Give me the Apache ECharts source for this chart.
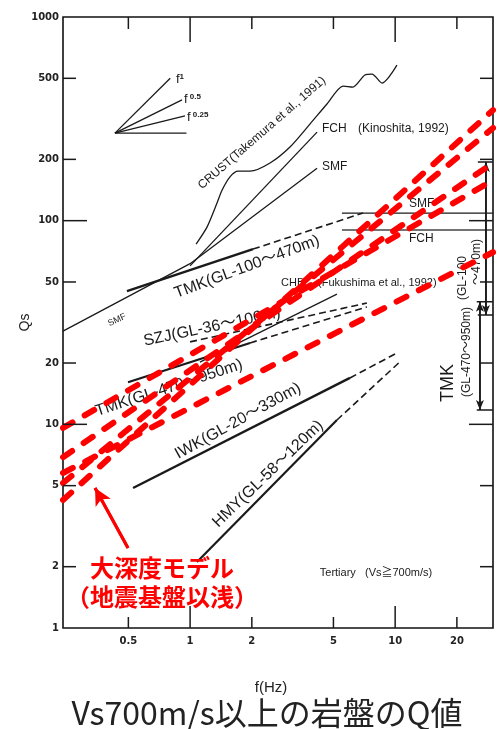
<!DOCTYPE html>
<html><head><meta charset="utf-8">
<script src="https://cdn.jsdelivr.net/npm/echarts@6/dist/echarts.min.js"></script>
<style>html,body{margin:0;padding:0;background:#fff}#c{width:500px;height:729px}</style>
</head><body><div id="c"></div>
<script>
// ---------- axes / ticks ----------
const xTicks = [0.5, 1, 2, 5, 10, 20];
const xTickLabels = ['0.5', '1', '2', '5', '10', '20'];
const yTicks = [1, 2, 5, 10, 20, 50, 100, 200, 500, 1000];
const yTickLabels = ['1', '2', '5', '10', '20', '50', '100', '200', '500', '1000'];
const X_MIN = 0.24, X_MAX = 30, Y_MIN = 1, Y_MAX = 1000;

// ---------- red "大深度モデル" lines [f, Qs] ----------
const modelA = [[0.24, 9.6], [30, 158]];
const modelB = [[0.24, 6.9], [30, 192]];
const modelC = [[0.24, 5.15], [30, 285]];
const modelD = [[0.24, 4.25], [30, 349]];
const modelE = [[0.24, 5.77], [30, 70]];

// ---------- slope reference fan ----------
const fanF1 = [[0.43, 269], [0.80, 500]];
const fanF05 = [[0.43, 269], [0.913, 392]];
const fanF025 = [[0.43, 269], [0.944, 327]];
const fanF0 = [[0.43, 269], [0.96, 269]];

// ---------- literature curves ----------
const crust = [[1.07, 76.8], [1.209, 93], [1.353, 122], [1.431, 141], [1.565, 164], [1.713, 175], [1.96, 175],
  [2.454, 192], [3.07, 230], [3.84, 298], [4.65, 374], [5.57, 458], [6.22, 453], [7.12, 519], [7.71, 524], [8.63, 474], [10.2, 580]];
const fch = [[1.0, 60], [4.16, 272]];
const smf = [[0.24, 28.7], [1.0, 61.5], [4.16, 181]];
const smfFlat = [[5.5, 109], [30, 109]];
const fchFlat = [[5.5, 90], [30, 90]];
const tmk100Solid = [[0.492, 45.1], [2.026, 72.5]];
const tmk100Dash = [[2.026, 72.5], [6.97, 109]];
const tmk470Solid = [[0.498, 16.1], [1.96, 25.1]];
const tmk470Dash = [[1.96, 25.1], [7.28, 37.7]];
const szjDash = [[1.0, 25.4], [7.28, 39.4]];
const chb = [[1.117, 20.2], [5.2, 43.6]];
const iwkSolid = [[0.527, 4.87], [6.02, 16.9]];
const iwkDash = [[6.02, 16.9], [10.2, 22.4]];
const hmySolid = [[1.08, 2.11], [5.2, 10.5]];
const hmyDash = [[5.2, 10.5], [10.4, 20.0]];

// ---------- TMK ranges at right ----------
const tmkUpperBar = [[27.7, 194], [27.7, 34.4]];
const tmkUpperCapTop = [[25.3, 194], [30, 194]];
const tmkUpperCapBot = [[25.3, 34.4], [30, 34.4]];
const tmkLowerBar = [[25.9, 40], [25.9, 11.75]];
const tmkLowerCapTop = [[25.0, 40], [30, 40]];
const tmkLowerCapBot = [[25.0, 11.75], [30, 11.75]];

// ---------- red arrow ----------
const redArrow = [[0.498, 2.47], [0.344, 4.87]];

const BLACK = '#1a1a1a', RED = '#ff0000';
const LAT = '"Liberation Sans", "Noto Sans CJK JP", sans-serif';
const JP = '"Noto Sans CJK JP", sans-serif';

function line(name, data, o) {
  o = o || {};
  const s = {
    name, type: 'line', data, symbol: 'none', silent: true, z: o.z || 3, smooth: o.smooth || false,
    lineStyle: { color: o.color || BLACK, width: o.width || 1.3, type: o.type || 'solid', cap: o.cap || 'butt' }
  };
  if (o.markLine) s.markLine = o.markLine;
  return s;
}
function arrowLine(pts, sym, size, color, width) {
  return {
    silent: true, animation: false, symbol: sym, symbolSize: size,
    label: { show: false }, lineStyle: { color, width, type: 'solid' },
    data: [[{ coord: pts[0] }, { coord: pts[1] }]]
  };
}

const RED_DASH = { color: RED, width: 6, type: [11, 14], cap: 'round', z: 6 };
const BLK_DASH = [7, 4];

const series = [
  line('fanF1', fanF1), line('fanF05', fanF05), line('fanF025', fanF025), line('fanF0', fanF0),
  line('CRUST', crust, { smooth: 0.25 }),
  line('FCH', fch), line('SMF', smf),
  line('SMF flat', smfFlat), line('FCH flat', fchFlat, { color: '#444' }),
  line('TMK100', tmk100Solid, { width: 2.4 }), line('TMK100d', tmk100Dash, { width: 1.6, type: BLK_DASH }),
  line('TMK470', tmk470Solid, { width: 2.2 }), line('TMK470d', tmk470Dash, { width: 1.6, type: BLK_DASH }),
  line('SZJ', szjDash, { width: 1.6, type: BLK_DASH }),
  line('CHB', chb, { width: 1.2 }),
  line('IWK', iwkSolid, { width: 2.4 }), line('IWKd', iwkDash, { width: 1.6, type: BLK_DASH }),
  line('HMY', hmySolid, { width: 2.2 }), line('HMYd', hmyDash, { width: 1.6, type: BLK_DASH }),
  line('tmkUpperBar', tmkUpperBar, { width: 1.6, markLine: arrowLine(tmkUpperBar, ['arrow', 'arrow'], [6, 10], BLACK, 1.6) }),
  line('tmkUpperCapTop', tmkUpperCapTop, { width: 1.6 }), line('tmkUpperCapBot', tmkUpperCapBot, { width: 1.6 }),
  line('tmkLowerBar', tmkLowerBar, { width: 1.6, markLine: arrowLine(tmkLowerBar, ['arrow', 'arrow'], [6, 10], BLACK, 1.6) }),
  line('tmkLowerCapTop', tmkLowerCapTop, { width: 1.6 }), line('tmkLowerCapBot', tmkLowerCapBot, { width: 1.6 }),
  line('modelA', modelA, RED_DASH), line('modelB', modelB, RED_DASH), line('modelC', modelC, RED_DASH),
  line('modelD', modelD, RED_DASH), line('modelE', modelE, RED_DASH),
  line('arrow', redArrow, { color: RED, width: 3, z: 7, markLine: arrowLine(redArrow, ['none', 'arrow'], [13, 17], RED, 3) }),
  {
    type: 'custom', silent: true, z: 8, data: yTicks.map(v => [X_MIN, v]),
    renderItem(params, api) {
      const i = params.dataIndex, v = yTicks[i];
      const p = api.coord([X_MIN, v]), q = api.coord([X_MAX, v]);
      const major = (v === 1 || v === 10 || v === 100 || v === 1000);
      const L = major ? 24 : 13;
      const ch = [];
      if (v !== Y_MIN && v !== Y_MAX) {
        ch.push({ type: 'line', shape: { x1: p[0], y1: p[1], x2: p[0] + L, y2: p[1] }, style: { stroke: BLACK, lineWidth: 1.5 } });
        ch.push({ type: 'line', shape: { x1: q[0] - L, y1: q[1], x2: q[0], y2: q[1] }, style: { stroke: BLACK, lineWidth: 1.5 } });
      }
      ch.push({ type: 'text', x: p[0] - 4, y: p[1], style: { text: yTickLabels[i], align: 'right', verticalAlign: 'middle', fontSize: 10, fontFamily: '"DejaVu Sans"', fontWeight: 'bold', fill: '#222' } });
      return { type: 'group', children: ch };
    }
  },
  {
    type: 'custom', silent: true, z: 8, data: xTicks.map(v => [v, Y_MIN]),
    renderItem(params, api) {
      const i = params.dataIndex, v = xTicks[i];
      const b = api.coord([v, Y_MIN]), t = api.coord([v, Y_MAX]);
      const major = (v === 1 || v === 10);
      const Lb = major ? 22 : 11, Lt = major ? 25 : 12;
      return {
        type: 'group', children: [
          { type: 'line', shape: { x1: b[0], y1: b[1], x2: b[0], y2: b[1] - Lb }, style: { stroke: BLACK, lineWidth: 1.5 } },
          { type: 'line', shape: { x1: t[0], y1: t[1], x2: t[0], y2: t[1] + Lt }, style: { stroke: BLACK, lineWidth: 1.5 } },
          { type: 'text', x: b[0], y: b[1] + 13, style: { text: xTickLabels[i], align: 'center', verticalAlign: 'middle', fontSize: 10, fontFamily: '"DejaVu Sans"', fontWeight: 'bold', fill: '#222' } }
        ]
      };
    }
  }
];

function txt(text, x, y, deg, size, o) {
  o = o || {};
  return {
    type: 'text', x, y, rotation: (deg || 0) * Math.PI / 180, z: o.z || 1, silent: true,
    style: { text, align: o.align || 'center', verticalAlign: 'middle', fontSize: size, fontFamily: o.font || LAT, fontWeight: o.weight || 'normal', fill: o.fill || BLACK, rich: o.rich }
  };
}
const supRich = { b: { fontSize: 13, fontFamily: LAT, fill: BLACK }, s: { fontSize: 8, fontFamily: LAT, fontWeight: 'bold', fill: BLACK, verticalAlign: 'top' } };

const graphic = [
  txt('{b|f}{s|1}', 176, 79, 0, 13, { align: 'left', rich: supRich }),
  txt('{b|f}{s| 0.5}', 184, 99, 0, 13, { align: 'left', rich: supRich }),
  txt('{b|f}{s| 0.25}', 187, 117, 0, 13, { align: 'left', rich: supRich }),
  txt('CRUST(Takemura et al., 1991)', 262, 133, 41, 12),
  txt('FCH', 322, 129, 0, 12, { align: 'left' }),
  txt('(Kinoshita, 1992)', 358, 129, 0, 12, { align: 'left' }),
  txt('SMF', 322, 167, 0, 12, { align: 'left' }),
  txt('SMF', 409, 204, 0, 12, { align: 'left' }),
  txt('FCH', 409, 239, 0, 12, { align: 'left' }),
  txt('SMF', 117, 320, 25, 9),
  txt('TMK(GL-100～470m)', 247, 267, 20.5, 16),
  txt('CHB', 281, 283, 0, 11, { align: 'left' }),
  txt('(Fukushima et al., 1992)', 318, 283, 0, 11, { align: 'left' }),
  txt('SZJ(GL-36～100m)', 212, 327, 12, 16),
  txt('TMK(GL-470～950m)', 169, 388, 18, 16),
  txt('IWK(GL-20～330m)', 238, 421, 29, 16),
  txt('HMY(GL-58～120m)', 268, 474, 44, 16),
  txt('(GL-100', 463, 278, 90, 12),
  txt('～470m)', 477, 262, 90, 12),
  txt('TMK', 448, 383, 90, 18),
  txt('(GL-470～950m)', 467, 352, 90, 12),
  txt('Tertiary   (Vs≧700m/s)', 376, 573, 0, 11),
  txt('大深度モデル', 162, 568, 0, 24, { font: JP, weight: 'bold', fill: RED, z: 20 }),
  txt('（地震基盤以浅）', 162, 597, 0, 24, { font: JP, weight: 'bold', fill: RED, z: 20 }),
  txt('Vs700m/s以上の岩盤のQ値', 267, 713, 0, 32, { font: JP, fill: '#222', z: 20 })
];

const option = {
  animation: false,
  backgroundColor: '#fff',
  grid: { left: 63, top: 17, right: 7, bottom: 101, show: true, borderColor: '#111', borderWidth: 1.6, backgroundColor: 'transparent' },
  xAxis: {
    type: 'log', logBase: 10, min: X_MIN, max: X_MAX,
    name: 'f(Hz)', nameLocation: 'middle', nameGap: 52,
    nameTextStyle: { fontSize: 15, fontFamily: LAT, color: '#222', padding: [0, 14, 0, 0] },
    axisLine: { show: false }, axisTick: { show: false }, axisLabel: { show: false }, splitLine: { show: false }, minorTick: { show: false }
  },
  yAxis: {
    type: 'log', logBase: 10, min: Y_MIN, max: Y_MAX,
    name: 'Qs', nameLocation: 'middle', nameGap: 31,
    nameTextStyle: { fontSize: 14, fontFamily: LAT, color: '#222' },
    axisLine: { show: false }, axisTick: { show: false }, axisLabel: { show: false }, splitLine: { show: false }, minorTick: { show: false }
  },
  series,
  graphic
};
const chart = echarts.init(document.getElementById('c'));
chart.setOption(option);
</script>
</body></html>
